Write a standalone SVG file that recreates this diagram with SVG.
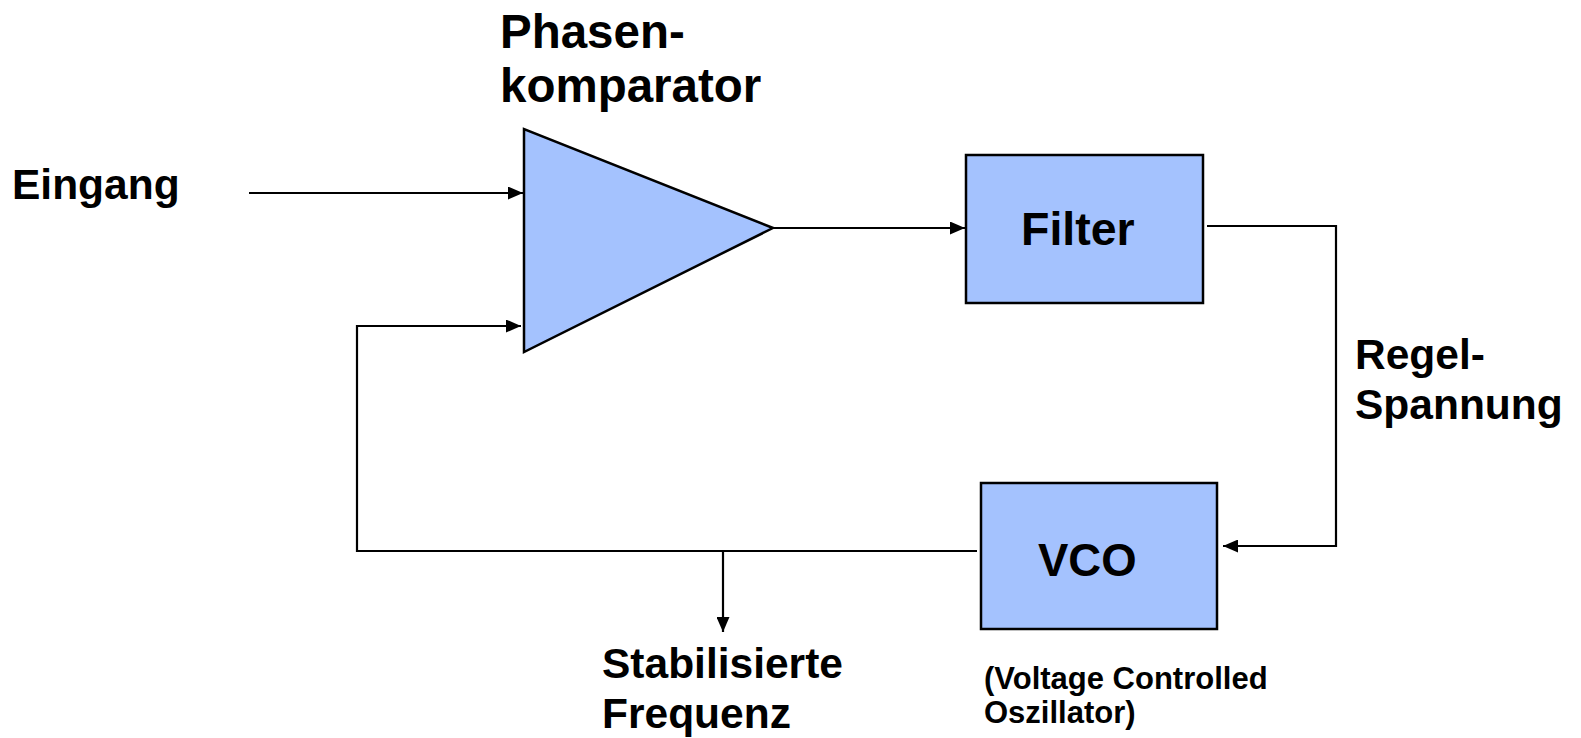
<svg xmlns="http://www.w3.org/2000/svg" width="1581" height="738" viewBox="0 0 1581 738">
<style>
.box{fill:#a4c2fe;stroke:#000;stroke-width:2.5}
.ln{fill:none;stroke:#000;stroke-width:2.2}
.t{font-family:"Liberation Sans",Arial,sans-serif;font-weight:bold;fill:#000}
</style>
<defs>
<marker id="ah" markerWidth="15" markerHeight="13" refX="15" refY="6.5" orient="auto" markerUnits="userSpaceOnUse">
<path d="M0,0 L15,6.5 L0,13 z" fill="#000"/>
</marker>
</defs>
<rect width="1581" height="738" fill="#fff"/>
<g id="connectors">
<path class="ln" d="M249,193 H523" marker-end="url(#ah)"/>
<path class="ln" d="M773,228 H965" marker-end="url(#ah)"/>
<path class="ln" d="M1207,226 H1336 V546 H1223" marker-end="url(#ah)"/>
<path class="ln" d="M977,551 H357 V326 H521" marker-end="url(#ah)"/>
<path class="ln" d="M723,551 V632" marker-end="url(#ah)"/>
</g>
<g id="phasenkomparator">
<polygon class="box" points="524,129 524,352 773,228"/>
<text class="t" font-size="47.5" x="500" y="48">Phasen-</text>
<text class="t" font-size="47.5" x="500" y="102">komparator</text>
</g>
<g id="filter">
<rect class="box" x="966" y="155" width="237" height="148"/>
<text class="t" font-size="46.5" x="1021" y="245">Filter</text>
</g>
<g id="vco">
<rect class="box" x="981" y="483" width="236" height="146"/>
<text class="t" font-size="45.5" x="1038" y="576">VCO</text>
</g>
<g id="labels">
<text class="t" font-size="42.5" x="12" y="199">Eingang</text>
<text class="t" font-size="42.5" x="1355" y="369">Regel-</text>
<text class="t" font-size="42.5" x="1355" y="419">Spannung</text>
<text class="t" font-size="42.5" x="602" y="678">Stabilisierte</text>
<text class="t" font-size="42.5" x="602" y="728">Frequenz</text>
<text class="t" font-size="31" x="984" y="689">(Voltage Controlled</text>
<text class="t" font-size="31" x="984" y="723">Oszillator)</text>
</g>
</svg>
